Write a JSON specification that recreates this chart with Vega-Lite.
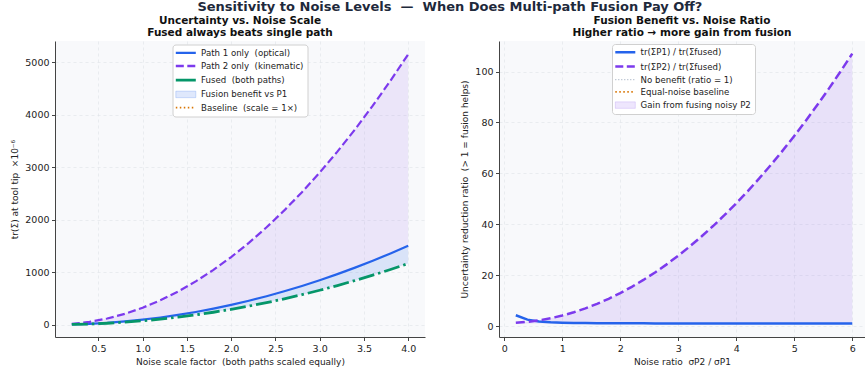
{
  "$schema": "https://vega.github.io/schema/vega-lite/v6.json",
  "padding": {"left": 10, "top": 1, "right": 0, "bottom": 2},
  "background": "white",
  "title": {"text": "Sensitivity to Noise Levels\u00a0 —\u00a0 When Does Multi-path Fusion Pay Off?", "anchor": "middle", "fontSize": 13, "font": "DejaVu Sans", "fontWeight": "bold", "color": "#1e293b", "offset": 1.5, "dx": 12},
  "datasets": {
    "scale": [
      {"s": 0.2, "p1": 3.76, "p2": 12.88, "fused": 2.91},
      {"s": 0.4, "p1": 15.04, "p2": 51.52, "fused": 11.64},
      {"s": 0.6, "p1": 33.84, "p2": 115.92, "fused": 26.19},
      {"s": 0.8, "p1": 60.16, "p2": 206.08, "fused": 46.57},
      {"s": 1.0, "p1": 94, "p2": 322, "fused": 72.76},
      {"s": 1.2, "p1": 135.36, "p2": 463.68, "fused": 104.77},
      {"s": 1.4, "p1": 184.24, "p2": 631.12, "fused": 142.61},
      {"s": 1.6, "p1": 240.64, "p2": 824.32, "fused": 186.27},
      {"s": 1.8, "p1": 304.56, "p2": 1043.28, "fused": 235.74},
      {"s": 2.0, "p1": 376, "p2": 1288, "fused": 291.04},
      {"s": 2.2, "p1": 454.96, "p2": 1558.48, "fused": 352.16},
      {"s": 2.4, "p1": 541.44, "p2": 1854.72, "fused": 419.1},
      {"s": 2.6, "p1": 635.44, "p2": 2176.72, "fused": 491.86},
      {"s": 2.8, "p1": 736.96, "p2": 2524.48, "fused": 570.44},
      {"s": 3.0, "p1": 846, "p2": 2898, "fused": 654.84},
      {"s": 3.2, "p1": 962.56, "p2": 3297.28, "fused": 745.06},
      {"s": 3.4, "p1": 1086.64, "p2": 3722.32, "fused": 841.11},
      {"s": 3.6, "p1": 1218.24, "p2": 4173.12, "fused": 942.97},
      {"s": 3.8, "p1": 1357.36, "p2": 4649.68, "fused": 1050.65},
      {"s": 4.0, "p1": 1504, "p2": 5152, "fused": 1164.16}
    ],
    "ratio": [
      {"r": 0.2, "p1r": 4.251, "p2r": 1.308},
      {"r": 0.4, "p1r": 2.514, "p2r": 1.660},
      {"r": 0.6, "p1r": 1.801, "p2r": 2.248},
      {"r": 0.8, "p1r": 1.483, "p2r": 3.072},
      {"r": 1.0, "p1r": 1.319, "p2r": 4.13},
      {"r": 1.2, "p1r": 1.226, "p2r": 5.424},
      {"r": 1.4, "p1r": 1.168, "p2r": 6.952},
      {"r": 1.6, "p1r": 1.130, "p2r": 8.716},
      {"r": 1.8, "p1r": 1.103, "p2r": 10.716},
      {"r": 2.0, "p1r": 1.084, "p2r": 12.95},
      {"r": 2.2, "p1r": 1.069, "p2r": 15.42},
      {"r": 2.4, "p1r": 1.058, "p2r": 18.124},
      {"r": 2.6, "p1r": 1.050, "p2r": 21.064},
      {"r": 2.8, "p1r": 1.043, "p2r": 24.24},
      {"r": 3.0, "p1r": 1.0375, "p2r": 27.65},
      {"r": 3.2, "p1r": 1.033, "p2r": 31.296},
      {"r": 3.4, "p1r": 1.029, "p2r": 35.176},
      {"r": 3.6, "p1r": 1.026, "p2r": 39.292},
      {"r": 3.8, "p1r": 1.023, "p2r": 43.644},
      {"r": 4.0, "p1r": 1.021, "p2r": 48.23},
      {"r": 4.2, "p1r": 1.019, "p2r": 53.052},
      {"r": 4.4, "p1r": 1.018, "p2r": 58.108},
      {"r": 4.6, "p1r": 1.016, "p2r": 63.4},
      {"r": 4.8, "p1r": 1.015, "p2r": 68.928},
      {"r": 5.0, "p1r": 1.014, "p2r": 74.69},
      {"r": 5.2, "p1r": 1.013, "p2r": 80.688},
      {"r": 5.4, "p1r": 1.012, "p2r": 86.92},
      {"r": 5.6, "p1r": 1.011, "p2r": 93.388},
      {"r": 5.8, "p1r": 1.010, "p2r": 100.09},
      {"r": 6.0, "p1r": 1.009, "p2r": 107.03}
    ],
    "one": [{"note": "single annotation row"}]
  },
  "resolve": {"scale": {"color": "independent"}, "legend": {"color": "independent"}},
  "spacing": 35,
  "hconcat": [
    {
      "width": 370,
      "height": 296,
      "title": {"text": ["Uncertainty vs. Noise Scale", "Fused always beats single path"], "fontSize": 10.5, "lineHeight": 12, "offset": 3, "anchor": "middle", "font": "DejaVu Sans", "fontWeight": "bold", "color": "#111"},
      "data": {"name": "scale"},
      "encoding": {
        "x": {"field": "s", "type": "quantitative", "scale": {"domain": [0.01, 4.19], "nice": false, "zero": false},
              "axis": {"values": [0.5, 1, 1.5, 2, 2.5, 3, 3.5, 4], "format": ".1f", "title": "Noise scale factor\u00a0 (both paths scaled equally)"}}
      },
      "layer": [
        {
          "mark": {"type": "area", "opacity": 0.1, "color": "#7c3aed"},
          "encoding": {
            "y": {"field": "p1", "type": "quantitative", "scale": {"domain": [-236, 5406], "nice": false, "zero": false},
                  "axis": {"values": [0, 1000, 2000, 3000, 4000, 5000], "format": "d", "title": "tr(Σ) at tool tip\u00a0 ×10⁻⁶"}},
            "y2": {"field": "p2"}
          }
        },
        {
          "mark": {"type": "area", "opacity": 0.15},
          "encoding": {
            "y": {"field": "fused", "type": "quantitative"},
            "y2": {"field": "p1"},
            "color": {"datum": "Fusion benefit vs P1"}
          }
        },
        {
          "mark": {"type": "line", "strokeWidth": 2.2},
          "encoding": {
            "y": {"field": "p1", "type": "quantitative"},
            "color": {"datum": "Path 1 only\u00a0 (optical)",
              "scale": {"domain": ["Path 1 only\u00a0 (optical)", "Path 2 only\u00a0 (kinematic)", "Fused\u00a0 (both paths)", "Fusion benefit vs P1", "Baseline\u00a0 (scale = 1×)"],
                        "range": ["#2563eb", "#7c3aed", "#059669", "#2563eb", "#d97706"]},
              "legend": {
                "title": null, "orient": "none", "legendX": 117.5, "legendY": 3.5, "direction": "vertical",
                "symbolType": "M-1,0L3,0", "symbolSize": 100, "rowPadding": 3.2,
                "labelFont": "DejaVu Sans", "labelFontSize": 8.6, "labelColor": "#222", "labelOffset": 16,
                "fillColor": "white", "strokeColor": "#d0d0d0", "cornerRadius": 3, "padding": 4,
                "encode": {"symbols": {"update": {
                  "opacity": {"value": 1},
                  "shape": {"signal": "datum.value === 'Fusion benefit vs P1' ? 'M-1,-0.65L3,-0.65L3,0.65L-1,0.65Z' : 'M-1,0L3,0'"},
                  "fill": {"signal": "datum.value === 'Fusion benefit vs P1' ? '#2563eb' : 'transparent'"},
                  "fillOpacity": {"value": 0.15},
                  "stroke": {"signal": "datum.value === 'Path 1 only\u00a0 (optical)' ? '#2563eb' : datum.value === 'Path 2 only\u00a0 (kinematic)' ? '#7c3aed' : datum.value === 'Fused\u00a0 (both paths)' ? '#059669' : datum.value === 'Fusion benefit vs P1' ? '#2563eb' : '#d97706'"},
                  "strokeWidth": {"signal": "datum.value === 'Fusion benefit vs P1' ? 0.8 : datum.value === 'Baseline\u00a0 (scale = 1×)' ? 1.6 : datum.value === 'Fused\u00a0 (both paths)' ? 2.8 : 2.3"},
                  "strokeOpacity": {"signal": "datum.value === 'Fusion benefit vs P1' ? 0.25 : 1"},
                  "strokeDash": {"signal": "datum.value === 'Path 2 only\u00a0 (kinematic)' ? [8, 3.5] : datum.value === 'Baseline\u00a0 (scale = 1×)' ? [1.5, 2.5] : [1, 0]"}
                }}}
              }
            }
          }
        },
        {
          "mark": {"type": "line", "strokeWidth": 2.2, "strokeDash": [8, 3.5]},
          "encoding": {
            "y": {"field": "p2", "type": "quantitative"},
            "color": {"datum": "Path 2 only\u00a0 (kinematic)"}
          }
        },
        {
          "mark": {"type": "line", "strokeWidth": 2.8, "strokeDash": [16, 4, 2.5, 4]},
          "encoding": {
            "y": {"field": "fused", "type": "quantitative"},
            "color": {"datum": "Fused\u00a0 (both paths)"}
          }
        },
        {
          "data": {"name": "one"},
          "mark": {"type": "rule", "strokeWidth": 1.5, "strokeDash": [1.5, 2.5]},
          "encoding": {
            "x": {"datum": 1},
            "color": {"datum": "Baseline\u00a0 (scale = 1×)"}
          }
        },
        {
          "data": {"name": "one"},
          "mark": {"type": "text", "align": "left", "baseline": "middle", "fontSize": 12, "fontWeight": "bold", "font": "DejaVu Sans", "color": "#1e293b"},
          "encoding": {
            "x": {"datum": 0.13},
            "y": {"datum": 5100},
            "text": {"value": "(A)"}
          }
        }
      ]
    },
    {
      "width": 366,
      "height": 296,
      "title": {"text": ["Fusion Benefit vs. Noise Ratio", "Higher ratio → more gain from fusion"], "fontSize": 10.5, "lineHeight": 12, "offset": 3, "anchor": "middle", "font": "DejaVu Sans", "fontWeight": "bold", "color": "#111"},
      "data": {"name": "ratio"},
      "encoding": {
        "x": {"field": "r", "type": "quantitative", "scale": {"domain": [-0.09, 6.22], "nice": false, "zero": false},
              "axis": {"values": [0, 1, 2, 3, 4, 5, 6], "format": "d", "title": "Noise ratio\u00a0 σP2 / σP1"}}
      },
      "layer": [
        {
          "mark": {"type": "area", "opacity": 0.12},
          "encoding": {
            "y": {"field": "p2r", "type": "quantitative", "scale": {"domain": [-4.3, 112], "nice": false, "zero": false},
                  "axis": {"values": [0, 20, 40, 60, 80, 100], "format": "d", "title": "Uncertainty reduction ratio\u00a0 (> 1 = fusion helps)"}},
            "y2": {"datum": 1},
            "color": {"datum": "Gain from fusing noisy P2"}
          }
        },
        {
          "data": {"name": "one"},
          "mark": {"type": "rule", "strokeWidth": 1, "strokeDash": [1, 2]},
          "encoding": {
            "y": {"datum": 1},
            "color": {"datum": "No benefit (ratio = 1)"}
          }
        },
        {
          "mark": {"type": "line", "strokeWidth": 2.5},
          "encoding": {
            "y": {"field": "p1r", "type": "quantitative"},
            "color": {"datum": "tr(ΣP1) / tr(Σfused)",
              "scale": {"domain": ["tr(ΣP1) / tr(Σfused)", "tr(ΣP2) / tr(Σfused)", "No benefit (ratio = 1)", "Equal-noise baseline", "Gain from fusing noisy P2"],
                        "range": ["#2563eb", "#7c3aed", "#94a3b8", "#d97706", "#7c3aed"]},
              "legend": {
                "title": null, "orient": "none", "legendX": 113, "legendY": 3, "direction": "vertical",
                "symbolType": "M-1,0L3,0", "symbolSize": 100, "rowPadding": 3.2,
                "labelFont": "DejaVu Sans", "labelFontSize": 8.6, "labelColor": "#222", "labelOffset": 16,
                "fillColor": "white", "strokeColor": "#d0d0d0", "cornerRadius": 3, "padding": 4,
                "encode": {"symbols": {"update": {
                  "opacity": {"value": 1},
                  "shape": {"signal": "datum.value === 'Gain from fusing noisy P2' ? 'M-1,-0.65L3,-0.65L3,0.65L-1,0.65Z' : 'M-1,0L3,0'"},
                  "fill": {"signal": "datum.value === 'Gain from fusing noisy P2' ? '#7c3aed' : 'transparent'"},
                  "fillOpacity": {"value": 0.13},
                  "stroke": {"signal": "datum.value === 'tr(ΣP1) / tr(Σfused)' ? '#2563eb' : datum.value === 'tr(ΣP2) / tr(Σfused)' ? '#7c3aed' : datum.value === 'No benefit (ratio = 1)' ? '#94a3b8' : datum.value === 'Equal-noise baseline' ? '#d97706' : '#7c3aed'"},
                  "strokeWidth": {"signal": "datum.value === 'Gain from fusing noisy P2' ? 0.8 : datum.value === 'No benefit (ratio = 1)' ? 1 : datum.value === 'Equal-noise baseline' ? 1.6 : 2.5"},
                  "strokeOpacity": {"signal": "datum.value === 'Gain from fusing noisy P2' ? 0.2 : 1"},
                  "strokeDash": {"signal": "datum.value === 'tr(ΣP2) / tr(Σfused)' ? [8, 3.5] : datum.value === 'No benefit (ratio = 1)' ? [1, 2] : datum.value === 'Equal-noise baseline' ? [1.5, 2.5] : [1, 0]"}
                }}}
              }
            }
          }
        },
        {
          "mark": {"type": "line", "strokeWidth": 2.5, "strokeDash": [9, 4]},
          "encoding": {
            "y": {"field": "p2r", "type": "quantitative"},
            "color": {"datum": "tr(ΣP2) / tr(Σfused)"}
          }
        },
        {
          "data": {"name": "one"},
          "mark": {"type": "rule", "strokeWidth": 1.5, "strokeDash": [1.5, 2.5]},
          "encoding": {
            "x": {"datum": 1},
            "color": {"datum": "Equal-noise baseline"}
          }
        },
        {
          "data": {"name": "one"},
          "mark": {"type": "text", "align": "left", "baseline": "middle", "fontSize": 12, "fontWeight": "bold", "font": "DejaVu Sans", "color": "#1e293b"},
          "encoding": {
            "x": {"datum": 0.12},
            "y": {"datum": 106},
            "text": {"value": "(B)"}
          }
        }
      ]
    }
  ],
  "config": {
    "font": "DejaVu Sans",
    "view": {"stroke": null, "fill": "#f8f9fb"},
    "axis": {"labelFont": "DejaVu Sans", "titleFont": "DejaVu Sans", "labelFontSize": 9.5, "titleFontSize": 9, "titleFontWeight": "normal",
             "labelColor": "#222", "titleColor": "#222", "domainColor": "#444", "tickColor": "#444", "tickSize": 3.5,
             "gridColor": "#dfe3e8", "gridDash": [3, 3], "gridWidth": 0.6, "labelPadding": 2.5, "titlePadding": 5, "grid": true}
  }
}
